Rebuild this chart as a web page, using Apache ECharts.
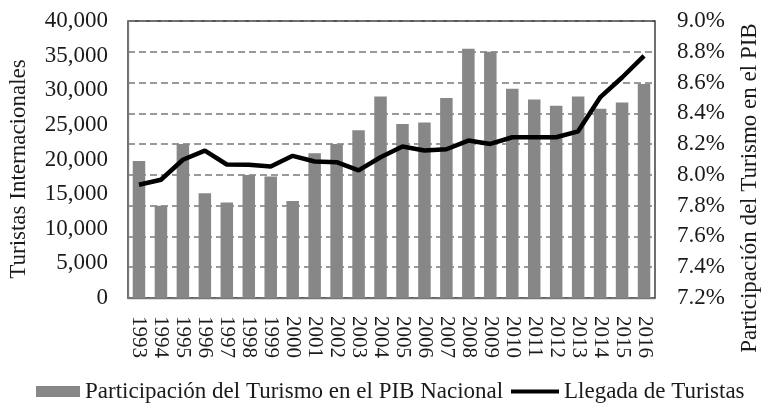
<!DOCTYPE html>
<html>
<head>
<meta charset="utf-8">
<script src="https://cdn.jsdelivr.net/npm/echarts@6/dist/echarts.min.js"></script>
<style>html,body{margin:0;padding:0;background:#fff;}#c{width:764px;height:404px;}</style>
</head>
<body>
<div id="c"></div>
<script>
const categories = ['1993','1994','1995','1996','1997','1998','1999','2000','2001','2002','2003','2004','2005','2006','2007','2008','2009','2010','2011','2012','2013','2014','2015','2016'];
const pibShare = [8.09, 7.80, 8.20, 7.88, 7.82, 8.00, 7.99, 7.83, 8.14, 8.20, 8.29, 8.51, 8.33, 8.34, 8.50, 8.82, 8.80, 8.56, 8.49, 8.45, 8.51, 8.43, 8.47, 8.59];
const arrivals = [16360, 17080, 19960, 21290, 19280, 19230, 18990, 20530, 19710, 19610, 18420, 20330, 21870, 21290, 21480, 22730, 22250, 23210, 23210, 23210, 24070, 28960, 31840, 34960];
const leftTitle = 'Turistas Internacionales';
const rightTitle = 'Participación del Turismo en el PIB';
const barName = 'Participación del Turismo en el PIB Nacional';
const lineName = 'Llegada de Turistas';

const FONT = 'Liberation Serif, Times New Roman, serif';
const TXT = '#1a1a1a';
const legendText = {fontFamily: FONT, fontSize: 23, color: TXT};
const chart = echarts.init(document.getElementById('c'), null, {renderer: 'canvas'});
chart.setOption({
  animation: false,
  backgroundColor: '#fff',
  grid: {left: 128, right: 109, top: 21, bottom: 106, show: true, borderColor: '#222', borderWidth: 1.3, backgroundColor: 'transparent'},
  legend: [
    {left: 36, top: 380, padding: 0, itemWidth: 44, itemHeight: 11,
     textStyle: legendText, data: [{name: barName, icon: 'rect'}]},
    {left: 511, top: 380, padding: 0, itemWidth: 48, itemHeight: 4,
     textStyle: legendText, data: [{name: lineName, icon: 'rect'}]}
  ],
  graphic: [
    {type: 'text', x: 19, y: 169, rotation: Math.PI / 2,
     style: {text: leftTitle, font: '23px ' + FONT, fill: TXT, align: 'center', verticalAlign: 'middle'}},
    {type: 'text', x: 750, y: 188, rotation: Math.PI / 2,
     style: {text: rightTitle, font: '23px ' + FONT, fill: TXT, align: 'center', verticalAlign: 'middle'}}
  ],
  xAxis: {
    type: 'category', data: categories,
    axisLine: {lineStyle: {color: '#777', width: 1.3}},
    axisTick: {show: false},
    axisLabel: {interval: 0, rotate: -90, margin: 18, fontFamily: FONT, fontSize: 21, color: TXT}
  },
  yAxis: [
    {type: 'value', min: 0, max: 40000, interval: 5000, position: 'left',
     axisLine: {show: true, lineStyle: {color: '#777', width: 1.3}},
     axisTick: {show: false}, splitLine: {show: false},
     axisLabel: {margin: 20, fontFamily: FONT, fontSize: 23, color: TXT,
       formatter: v => v.toLocaleString('en-US')}},
    {type: 'value', min: 7.2, max: 9.0, interval: 0.2, position: 'right',
     axisLine: {show: false}, axisTick: {show: false},
     splitLine: {show: true, lineStyle: {color: '#7a7a7a', width: 1.5, type: [7, 4]}},
     axisLabel: {margin: 22, fontFamily: FONT, fontSize: 23, color: TXT,
       formatter: v => v.toFixed(1) + '%'}}
  ],
  series: [
    {name: barName, type: 'bar', yAxisIndex: 1, data: pibShare, barWidth: 12.5,
     itemStyle: {color: '#878787'}},
    {name: lineName, type: 'line', yAxisIndex: 0, data: arrivals, symbol: 'none',
     lineStyle: {color: '#000', width: 4.5}, itemStyle: {color: '#000'}}
  ]
});
</script>
</body>
</html>
